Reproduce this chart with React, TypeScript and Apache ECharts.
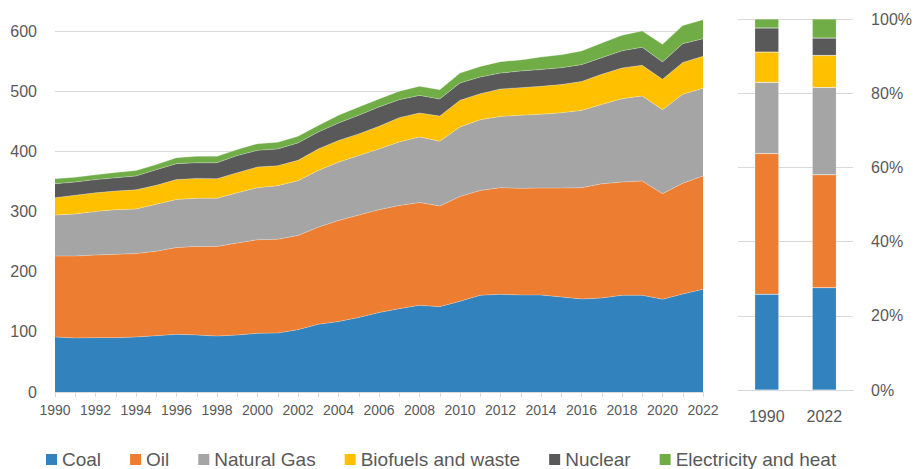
import React, { useEffect, useRef } from "react";
import * as echarts from "echarts";

const years = [
  "1990","1991","1992","1993","1994","1995","1996","1997","1998","1999",
  "2000","2001","2002","2003","2004","2005","2006","2007","2008","2009",
  "2010","2011","2012","2013","2014","2015","2016","2017","2018","2019",
  "2020","2021","2022",
];
const seriesNames = ["Coal", "Oil", "Natural Gas", "Biofuels and waste", "Nuclear", "Electricity and heat"];
const colors = ["#3182BD", "#ED7D31", "#A5A5A5", "#FFC000", "#595959", "#70AD47"];

const coal = [91.4, 89.7, 90.3, 90.3, 91.4, 93.6, 95.8, 94.7, 93.0, 94.7, 97.5, 98.0, 103.6, 112.5, 117.0, 124.0, 132.0, 138.5, 144.0, 141.8, 150.7, 160.7, 162.3, 161.2, 161.2, 158.0, 154.6, 156.2, 160.7, 160.7, 154.0, 163.0, 170.6];
const oil = [134.6, 136.3, 137.4, 138.5, 138.6, 140.4, 144.2, 147.3, 149.0, 152.9, 155.5, 156.0, 156.4, 161.5, 168.0, 170.0, 171.0, 171.5, 171.0, 167.2, 174.3, 174.3, 177.3, 177.3, 177.8, 181.0, 185.0, 189.8, 188.3, 190.0, 175.6, 184.0, 188.4];
const gas = [68, 70, 72.3, 74.2, 74, 78, 80, 80, 80, 83.4, 86.6, 89, 91, 94, 97, 99, 101, 105.5, 109, 107.6, 115.4, 117.6, 118.4, 121.5, 122.5, 125, 128.4, 132, 138.5, 141.3, 139.4, 147.7, 145.7];
const biofuels = [29, 31, 31, 31, 32, 31.5, 33, 33, 32.6, 33.5, 34.4, 33, 34, 36, 36, 36, 37.5, 40.5, 39.7, 42.1, 44.3, 43.2, 45.6, 45.8, 46.5, 47, 48, 50, 51, 51, 50.6, 53.1, 53.3];
const nuclear = [23, 22, 22, 22, 23, 26, 26.5, 26, 26.4, 28.5, 27.6, 28, 29, 28, 29, 31, 32.2, 29.9, 29.3, 28.3, 28.9, 27.7, 26.4, 27.7, 28, 28, 28, 27.7, 28.5, 30, 28.9, 31.2, 29];
const electricity = [8.6, 8, 8, 9, 9, 8.5, 10, 10.7, 10.7, 10, 11.1, 11, 11, 11, 13, 13.7, 13.3, 14.1, 15, 15.5, 16.4, 17.5, 19, 18.5, 20.8, 21.6, 22.7, 24.3, 26, 27, 29.3, 30, 31.8];

const leftTicks = [0, 100, 200, 300, 400, 500, 600];
const barCategories = ["1990", "2022"];

const FONT = "'Liberation Sans', Arial, sans-serif";
const TXT = "#595959";
const GRID = "#D9D9D9";

export default function App() {
  const ref = useRef<HTMLDivElement>(null);
  useEffect(() => {
    document.body.style.margin = "0";
    if (!ref.current) return;
    const chart = echarts.init(ref.current, undefined, { renderer: "svg" });
    const all = [coal, oil, gas, biofuels, nuclear, electricity];
    const barIdx = barCategories.map((c) => years.indexOf(c));
    const totals = barIdx.map((i) => all.reduce((s, arr) => s + arr[i], 0));

    const areaSeries = all.map((arr, k) => ({
      name: seriesNames[k],
      type: "line",
      xAxisIndex: 0,
      yAxisIndex: 0,
      stack: "total",
      data: arr,
      symbol: "none",
      clip: false,
      lineStyle: { width: 0.6, color: "rgba(255,255,255,0.45)" },
      areaStyle: { color: colors[k], opacity: 1 },
      itemStyle: { color: colors[k] },
    }));
    const barSeries = all.map((arr, k) => ({
      name: seriesNames[k],
      type: "bar",
      xAxisIndex: 1,
      yAxisIndex: 1,
      stack: "pct",
      barWidth: 24,
      data: barIdx.map((i, j) => (arr[i] / totals[j]) * 100),
      itemStyle: { color: colors[k], borderColor: "rgba(255,255,255,0.35)", borderWidth: 0.5 },
    }));

    chart.setOption({
      animation: false,
      textStyle: { fontFamily: FONT },
      legend: {
        data: seriesNames,
        left: 46,
        top: 450,
        padding: 0,
        itemWidth: 11,
        itemHeight: 11,
        itemGap: 29,
        icon: "rect",
        textStyle: { fontSize: 19, color: TXT, fontFamily: FONT, padding: [0, 0, 0, 0] },
      },
      grid: [
        { left: 55, top: 31, width: 648, height: 361 },
        { left: 738, top: 19, width: 117, height: 371 },
      ],
      xAxis: [
        {
          type: "category",
          gridIndex: 0,
          data: years,
          boundaryGap: false,
          axisLine: { lineStyle: { color: GRID, width: 1 } },
          axisTick: { show: true, interval: 0, length: 5, lineStyle: { color: GRID } },
          axisLabel: { interval: 1, fontSize: 14, color: TXT, margin: 11, fontFamily: FONT },
        },
        {
          type: "category",
          gridIndex: 1,
          data: barCategories,
          axisLine: { lineStyle: { color: GRID, width: 1 } },
          axisTick: { show: false },
          axisLabel: { fontSize: 16, color: TXT, margin: 18, fontFamily: FONT },
        },
      ],
      yAxis: [
        {
          type: "value",
          gridIndex: 0,
          min: leftTicks[0],
          max: leftTicks[leftTicks.length - 1],
          interval: 100,
          axisLine: { show: false },
          axisTick: { show: false },
          splitLine: { lineStyle: { color: GRID, width: 1 } },
          axisLabel: { fontSize: 16, color: TXT, margin: 18, fontFamily: FONT },
        },
        {
          type: "value",
          gridIndex: 1,
          position: "right",
          min: 0,
          max: 100,
          interval: 20,
          axisLine: { show: false },
          axisTick: { show: false },
          splitLine: { lineStyle: { color: GRID, width: 1 } },
          axisLabel: { fontSize: 16, color: TXT, margin: 18, fontFamily: FONT, formatter: "{value}%" },
        },
      ],
      series: [...areaSeries, ...barSeries],
    });
    return () => chart.dispose();
  }, []);
  return <div ref={ref} style={{ width: 915, height: 469 }} />;
}
